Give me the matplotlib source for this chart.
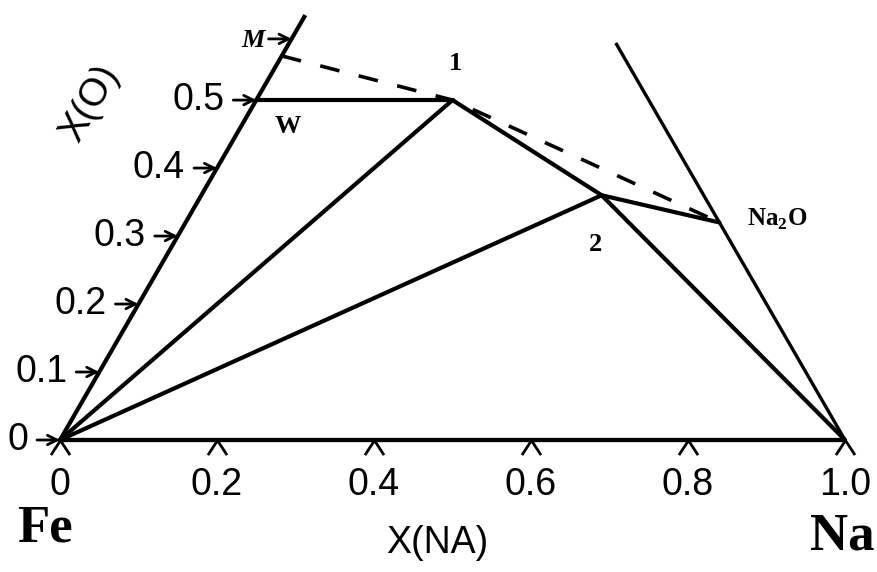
import numpy as np
import matplotlib
matplotlib.use("Agg")
import matplotlib.pyplot as plt
from matplotlib.path import Path

plt.rcParams["mathtext.fontset"] = "custom"
plt.rcParams["mathtext.bf"] = "Liberation Serif:bold"
plt.rcParams["mathtext.rm"] = "Liberation Serif"

# ---- data (ternary coordinates: X(NA), X(O)) ----
na_tick_vals = [0.0, 0.2, 0.4, 0.6, 0.8, 1.0]
na_tick_labels = ["0", "0.2", "0.4", "0.6", "0.8", "1.0"]
o_tick_vals = [0.0, 0.1, 0.2, 0.3, 0.4, 0.5, 0.59]
o_tick_labels = ["0", "0.1", "0.2", "0.3", "0.4", "0.5", "M"]

point_names = ["Fe", "Na", "W", "M", "1", "2", "Na2O"]
point_na = [0.0, 1.0, 0.0, 0.0, 0.25, 0.51, 0.68]
point_o = [0.0, 0.0, 0.5, 0.565, 0.5, 0.36, 0.32]

left_edge_top_o = 0.625
right_edge_top_o = 0.584

solid_ties = [("W", "1"), ("Fe", "1"), ("Fe", "2"), ("1", "2"), ("2", "Na2O"), ("2", "Na")]
dashed_path = ["M", "1", "Na2O"]

H = np.sqrt(3) / 2


def cart(na, o):
    return na + 0.5 * o, H * o


P = {n: cart(a, b) for n, a, b in zip(point_names, point_na, point_o)}

fig = plt.figure(figsize=(8.77, 5.72), dpi=100)
ax = fig.add_axes([0, 0, 1, 1])
ax.set_xlim(-60 / 785, (877 - 60) / 785)
ax.set_ylim(-132 / 785, (572 - 132) / 785)
ax.set_aspect("equal")
ax.axis("off")

K = "black"
lw = 3.0

# edges
ax.plot([P["Fe"][0], P["Na"][0]], [P["Fe"][1], P["Na"][1]], color=K, lw=3.1, solid_capstyle="butt")
lx, ly = cart(0.0, left_edge_top_o)
ax.plot([P["Fe"][0], lx], [P["Fe"][1], ly], color=K, lw=lw, solid_capstyle="butt")
rx, ry = cart(1 - right_edge_top_o, right_edge_top_o)
ax.plot([P["Na"][0], rx], [P["Na"][1], ry], color=K, lw=2.4, solid_capstyle="butt")

# tie lines
for a, b in solid_ties:
    ax.plot([P[a][0], P[b][0]], [P[a][1], P[b][1]], color=K, lw=lw, solid_capstyle="round")

# dashed line
ax.plot([P[n][0] for n in dashed_path], [P[n][1] for n in dashed_path],
        color=K, lw=2.6, dashes=(5.5, 5.5))

serif = ["Liberation Serif", "DejaVu Serif"]
sans = ["Liberation Sans", "DejaVu Sans"]

# left edge ticks (arrows) and labels
for v, lab in zip(o_tick_vals, o_tick_labels):
    x, y = cart(0.0, v)
    ax.annotate("", xy=(x, y), xytext=(-23, 0), textcoords="offset pixels",
                arrowprops=dict(arrowstyle="->", lw=2.0, color=K, mutation_scale=17,
                                shrinkA=0, shrinkB=0))
    if lab == "M":
        ax.annotate(lab, xy=(x, y), xytext=(-27, -2), textcoords="offset pixels",
                    ha="right", va="center", fontsize=19, fontweight="bold",
                    fontstyle="italic", family=serif)
    else:
        ax.annotate(lab, xy=(x, y), xytext=(-32, 0), textcoords="offset pixels",
                    ha="right", va="center", fontsize=27, family=sans)

# bottom ticks (carets) and labels
caret = Path([(-0.85, -1.3), (0.0, 0.0), (0.85, -1.3)], [Path.MOVETO, Path.LINETO, Path.LINETO])
for v, lab in zip(na_tick_vals, na_tick_labels):
    x, y = cart(v, 0.0)
    ax.plot([x], [y], marker=caret, markersize=21, markerfacecolor="none",
            markeredgecolor=K, markeredgewidth=2.0, linestyle="none")
    ax.annotate(lab, xy=(x, y), xytext=(0, -45), textcoords="offset pixels",
                ha="center", va="center", fontsize=27, family=sans)

# axis titles
ax.text((437 - 60) / 785, -(543 - 440) / 785, "X(NA)", ha="center", va="center",
        fontsize=27, family=sans)
ax.text((90 - 60) / 785, (440 - 104) / 785, "X(O)", ha="center", va="center",
        fontsize=28, family=sans, rotation=60, rotation_mode="anchor")

# corner labels
ax.annotate("Fe", xy=P["Fe"], xytext=(-15, -89), textcoords="offset pixels",
            ha="center", va="center", fontsize=38, fontweight="bold", family=serif)
ax.annotate("Na", xy=P["Na"], xytext=(-3, -97), textcoords="offset pixels",
            ha="center", va="center", fontsize=38, fontweight="bold", family=serif)

# point labels
ax.annotate("W", xy=P["W"], xytext=(32, -26), textcoords="offset pixels",
            ha="center", va="center", fontsize=19, fontweight="bold", family=serif)
ax.annotate("1", xy=P["1"], xytext=(3, 37), textcoords="offset pixels",
            ha="center", va="center", fontsize=19, fontweight="bold", family=serif)
ax.annotate("2", xy=P["2"], xytext=(-6, -49), textcoords="offset pixels",
            ha="center", va="center", fontsize=19, fontweight="bold", family=serif)
ax.annotate("Na$_\\mathbf{2}$O", xy=P["Na2O"], xytext=(28, 3), textcoords="offset pixels",
            ha="left", va="center", fontsize=18, fontweight="bold", family=serif)

fig.savefig("out.png", dpi=100)
